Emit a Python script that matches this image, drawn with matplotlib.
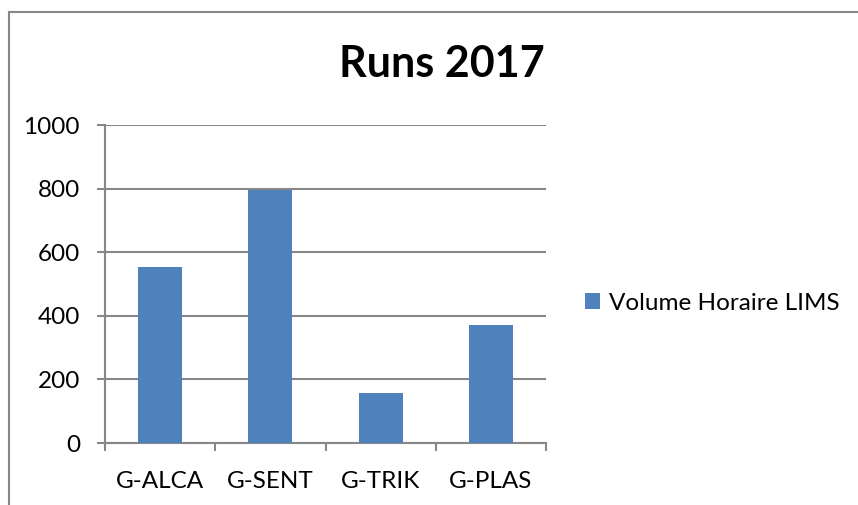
import matplotlib
matplotlib.use("Agg")
import matplotlib.pyplot as plt
from matplotlib.lines import Line2D
from matplotlib.patches import Patch

categories = ["G-ALCA", "G-SENT", "G-TRIK", "G-PLAS"]
values = [555, 797, 158, 371]
series_name = "Volume Horaire LIMS"
title = "Runs 2017"
yticks = [0, 200, 400, 600, 800, 1000]

plt.rcParams['font.family'] = ['Lato', 'DejaVu Sans']
W, H = 858, 505
fig = plt.figure(figsize=(W/100, H/100), dpi=100)
fig.patch.set_facecolor("white")

gray = "#878787"
bar_color = "#4F81BD"

ax = fig.add_axes([105/W, 1-443/H, (546-105)/W, (443-125)/H])
x = list(range(len(categories)))
ax.bar(x, values, width=0.4, color=bar_color, zorder=3)
ax.set_xlim(-0.5, len(categories)-0.5)
ax.set_ylim(0, 1000)
ax.set_yticks(yticks)
ax.set_yticklabels([str(v) for v in yticks])
ax.yaxis.grid(True, color=gray, linewidth=1.5, zorder=0)
ax.set_axisbelow(True)
ax.set_xticks(x)
ax.set_xticklabels(categories)
ax.set_xticks([i - 0.5 for i in range(len(categories)+1)], minor=True)
ax.tick_params(axis='x', which='major', length=0, pad=20, labelsize=17.5)
ax.tick_params(axis='x', which='minor', length=6, width=1.5, color=gray)
ax.tick_params(axis='y', length=6, width=1.5, color=gray, pad=12, labelsize=17.5)
for s in ['top', 'right']:
    ax.spines[s].set_visible(False)
for s in ['left', 'bottom']:
    ax.spines[s].set_color(gray)
    ax.spines[s].set_linewidth(1.5)

fig.text(442/W, 1-64/H, title, fontsize=31, fontweight='bold', ha='center', va='center')

handle = Patch(facecolor=bar_color, edgecolor='none')
fig.legend([handle], [series_name], loc='center left', bbox_to_anchor=(573/W, 1-303/H),
           frameon=False, fontsize=17.5, handlelength=0.6, handleheight=0.6,
           handletextpad=0.4, borderpad=0)

# outer chart frame (cut off at right/bottom)
fig.add_artist(Line2D([9/W, 9/W], [0, 1-12/H], color=gray, linewidth=1.5))
fig.add_artist(Line2D([9/W, 1], [1-12/H, 1-12/H], color=gray, linewidth=1.5))

fig.savefig("out.png", dpi=100, facecolor="white")
